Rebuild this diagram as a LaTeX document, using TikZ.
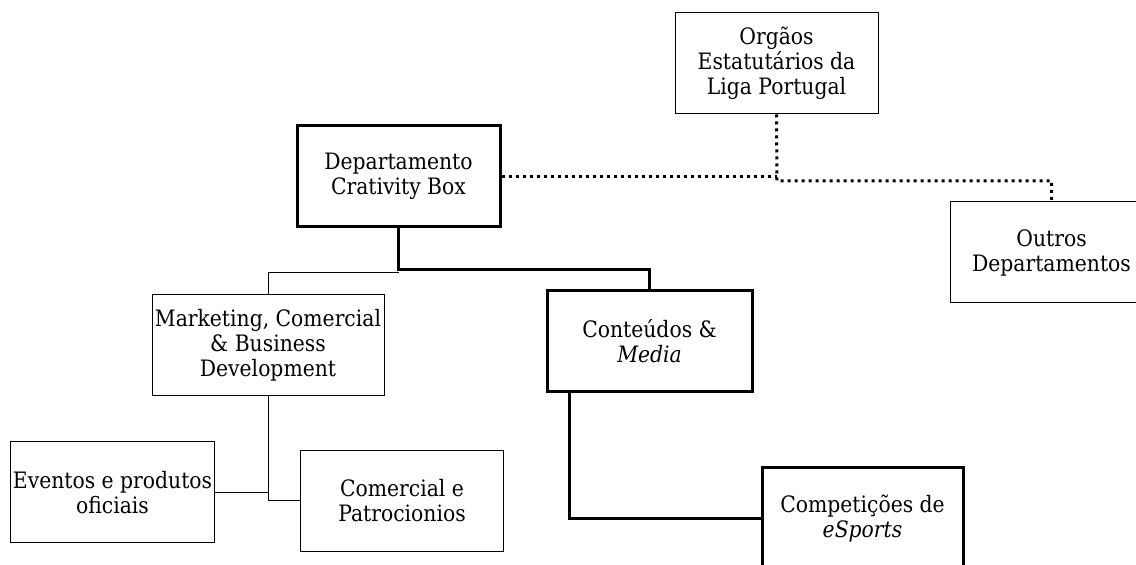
\documentclass[tikz,border=0pt]{standalone}
\usepackage{fontspec}
\setmainfont{DejaVu Serif Condensed}
\usetikzlibrary{positioning}

\begin{document}
\begin{tikzpicture}[x=0.5pt, y=-0.5pt,
  unit/.style={rectangle, draw=black, line width=0.5pt, fill=white,
    minimum width=101.5pt, minimum height=50.5pt, align=center, inner sep=1pt,
    font=\fontsize{11.3}{12.5}\selectfont},
  %
  core/.style={unit, line width=1.5pt},
  %
  thinlink/.style={draw=black, line width=0.5pt},
  %
  thicklink/.style={draw=black, line width=1.5pt},
  %
  dotlink/.style={draw=black, line width=1.5pt, dash pattern=on 1.5pt off 2pt}
  ]

  \useasboundingbox (0,0) rectangle (1136,565);

  \begin{scope}
    %%%%%%%%%%%%%%%%%%%%%%%%%%%%%%%
    \node [unit] (orgaos) at (776.5,63.5) {Orgãos\\Estatutários da\\Liga Portugal};
    \node [core] (dept) at (398.5,176.5) {Departamento\\Crativity Box};
    \node [unit] (outros) at (1051.5,252.5) {Outros\\Departamentos};
    %%%%%%%%%%%%%%%%%%%%%%%%%%%%%%%
    \node [unit, minimum width=116pt] (mkt) at (268,345) {Marketing, Comercial\\\& Business\\Development};
    \node [core, minimum width=102.5pt] (cont) at (649.5,341.5) {Conteúdos \&\\\textit{Media}};
    %%%%%%%%%%%%%%%%%%%%%%%%%%%%%%%
    \node [unit] (eventos) at (112.5,492.5) {Eventos e produtos\\oficiais};
    \node [unit] (comercial) at (402,501) {Comercial e\\Patrocionios};
    \node [core, minimum width=100.5pt] (comp) at (862.5,518.5) {Competições de\\\textit{eSports}};
    %%%%%%%%%%%%%%%%%%%%%%%%%%%%%%%
  \end{scope}

  \coordinate (split) at (398.5,270);
  \coordinate (splitmkt) at (398.5,273);
  \coordinate (dropcomp) at (569,392);
  \coordinate (hub) at (777,176.5);

  \begin{scope}
    \draw [thicklink] (dept.south) -- (split) -| (cont.north);
    \draw [thinlink] (splitmkt) -| (mkt.north);
    \draw [thinlink] (mkt.south) |- (comercial.west);
    \draw [thinlink] (eventos.east) -- (eventos.east -| mkt.south);
    \draw [thicklink] (dropcomp) |- (comp.west);
  \end{scope}

  \begin{scope}
    \draw [dotlink] (dept.east) -- (hub);
    \draw [dotlink] (orgaos.south) -- (777,181) -| (outros.north);
  \end{scope}

\end{tikzpicture}
\end{document}
